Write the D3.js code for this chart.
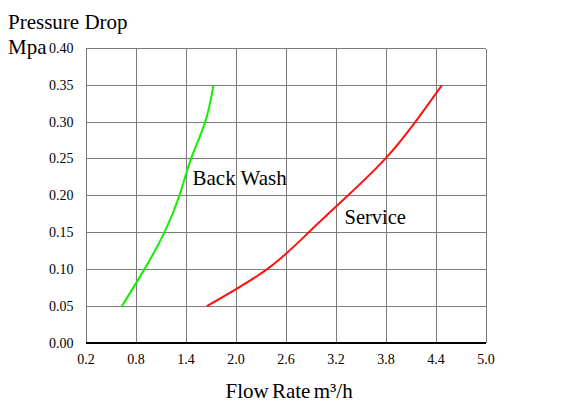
<!DOCTYPE html>
<html>
<head>
<meta charset="utf-8">
<script src="https://cdn.jsdelivr.net/npm/d3@7"></script>
<style>
  body { margin: 0; background: #fff; }
  text { font-family: "Liberation Serif", "Times New Roman", serif; fill: #000; }
</style>
</head>
<body>
<div id="chart"></div>
<script>
// pressure drop levels (Mpa)
const pressure = [0.05, 0.10, 0.15, 0.20, 0.25, 0.30, 0.35]
// flow rate (m3/h) for each pressure level
const backWashFlow = [0.63, 0.90, 1.14, 1.32, 1.46, 1.63, 1.73]
const serviceFlow = [1.65, 2.37, 2.87, 3.34, 3.79, 4.15, 4.47]

const xTicks = [0.2, 0.8, 1.4, 2.0, 2.6, 3.2, 3.8, 4.4, 5.0]
const yTicks = [0, 0.05, 0.10, 0.15, 0.20, 0.25, 0.30, 0.35, 0.40]

const width = 578, height = 410
const margin = {top: 48.5, right: 92, bottom: 67, left: 86}

const svg = d3.select("#chart")
  .append("svg")
    .attr("width", width)
    .attr("height", height)

const x = d3.scaleLinear()
  .domain([0.2, 5.0])
  .range([margin.left, width - margin.right])

const y = d3.scaleLinear()
  .domain([0, 0.4])
  .range([height - margin.bottom, margin.top])

// grid
const grid = svg.append("g")
  .attr("stroke", "#7b7b7b")
  .attr("stroke-width", 1)
  .attr("shape-rendering", "crispEdges")

grid.selectAll("line.v")
  .data(xTicks)
  .join("line")
    .attr("class", "v")
    .attr("x1", d => x(d)).attr("x2", d => x(d))
    .attr("y1", y(0.4)).attr("y2", y(0))

grid.selectAll("line.h")
  .data(yTicks)
  .join("line")
    .attr("class", "h")
    .attr("x1", x(0.2)).attr("x2", x(5.0))
    .attr("y1", d => y(d)).attr("y2", d => y(d))

// bottom axis line
svg.append("line")
  .attr("x1", x(0.2)).attr("x2", x(5.0))
  .attr("y1", y(0)).attr("y2", y(0))
  .attr("stroke", "#000")
  .attr("stroke-width", 2)

// tick labels
svg.append("g")
  .attr("font-size", 14)
  .attr("text-anchor", "end")
  .selectAll("text")
  .data(yTicks)
  .join("text")
    .attr("x", x(0.2) - 12.5)
    .attr("y", d => y(d) + 4.5)
    .text(d => d3.format(".2f")(d))

svg.append("g")
  .attr("font-size", 14)
  .attr("text-anchor", "middle")
  .selectAll("text")
  .data(xTicks)
  .join("text")
    .attr("x", d => x(d))
    .attr("y", 364)
    .text(d => d3.format(".1f")(d))

// curves
const line = d3.line()
  .x(d => x(d[0]))
  .y(d => y(d[1]))
  .curve(d3.curveNatural)

svg.append("path")
  .datum(d3.zip(backWashFlow, pressure))
  .attr("fill", "none")
  .attr("stroke", "#11ee00")
  .attr("stroke-width", 2)
  .attr("d", line)

svg.append("path")
  .datum(d3.zip(serviceFlow, pressure))
  .attr("fill", "none")
  .attr("stroke", "#ff1111")
  .attr("stroke-width", 2)
  .attr("d", line)

// labels
svg.append("text")
  .attr("x", 192.5).attr("y", 185)
  .attr("font-size", 21)
  .text("Back Wash")

svg.append("text")
  .attr("x", 344.5).attr("y", 223.5)
  .attr("font-size", 20.5)
  .text("Service")

svg.append("text")
  .attr("x", 8).attr("y", 28.5)
  .attr("font-size", 21)
  .text("Pressure Drop")

svg.append("text")
  .attr("x", 8).attr("y", 53.5)
  .attr("font-size", 21)
  .text("Mpa")

svg.append("text")
  .attr("x", 225.5).attr("y", 397.5)
  .attr("font-size", 21)
  .attr("word-spacing", -2)
  .text("Flow Rate m³/h")
</script>
</body>
</html>
